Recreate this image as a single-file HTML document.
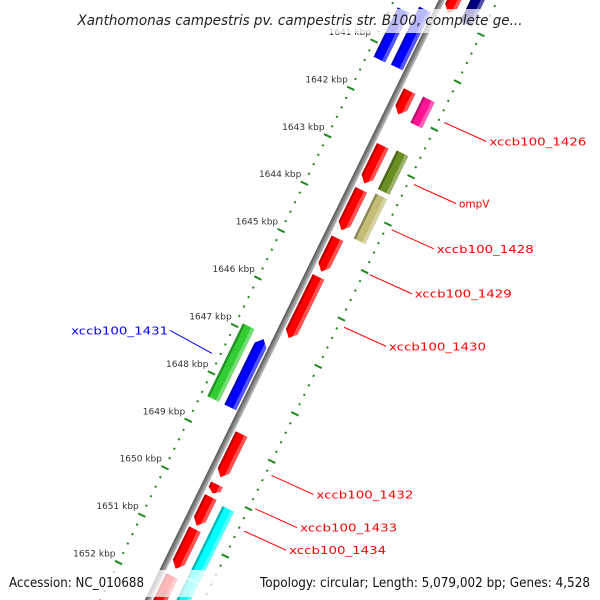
<!DOCTYPE html>
<html><head><meta charset="utf-8"><style>
html,body{margin:0;padding:0;background:#fff;width:600px;height:600px;overflow:hidden;}
svg{display:block;overflow:hidden;font-family:"DejaVu Sans","Liberation Sans",sans-serif;}
</style></head><body>
<svg id="map" width="600" height="600" viewBox="0 0 600 600" xmlns="http://www.w3.org/2000/svg">
<defs>
<linearGradient id="shade" x1="0" y1="0" x2="1" y2="0">
<stop offset="0" stop-color="#000" stop-opacity="0.28"/>
<stop offset="0.18" stop-color="#000" stop-opacity="0.28"/>
<stop offset="0.18" stop-color="#000" stop-opacity="0"/>
<stop offset="0.72" stop-color="#fff" stop-opacity="0"/>
<stop offset="0.72" stop-color="#fff" stop-opacity="0.32"/>
<stop offset="1" stop-color="#fff" stop-opacity="0.32"/>
</linearGradient>
<linearGradient id="bb" x1="0" y1="0" x2="1" y2="0">
<stop offset="0" stop-color="#555"/><stop offset="0.5" stop-color="#888"/><stop offset="1" stop-color="#c4c4c4"/>
</linearGradient>
<clipPath id="frame"><rect x="0" y="0" width="600" height="600"/></clipPath>
</defs>
<rect width="600" height="600" fill="#fff"/>
<g clip-path="url(#frame)">
<g id="rot" transform="translate(442,0) rotate(26.1)"></g>
</g>
<g id="labels"></g>
<rect x="0" y="9" width="600" height="24" fill="#fff" fill-opacity="0.72"/>
<text x="300" y="25" text-anchor="middle" font-size="14" font-style="italic" fill="#222" textLength="445" lengthAdjust="spacingAndGlyphs">Xanthomonas campestris pv. campestris str. B100, complete ge...</text>
<rect x="0" y="570" width="600" height="27" fill="#fff" fill-opacity="0.72"/>
<text x="9" y="587" font-size="13" fill="#111" textLength="135" lengthAdjust="spacingAndGlyphs">Accession: NC_010688</text>
<text x="590" y="587" text-anchor="end" font-size="13" fill="#111" textLength="330" lengthAdjust="spacingAndGlyphs">Topology: circular; Length: 5,079,002 bp; Genes: 4,528</text>
</svg>
<script>
var geneStarts = [1640230,1640040,1639168,1639170,1641555,1641536,1642710,1642672,1643638,1643581,1644661,1645475,1646896,1646991,1648790,1649850,1650116,1650797,1651782,1650172,1651706];
var geneEnds   = [1641271,1641261,1639907,1639945,1642047,1642085,1643506,1643487,1644491,1644528,1645362,1646763,1648430,1648430,1649699,1650040,1650722,1651630,1652994,1651688,1652994];
var geneTracks = ["L1","L2","R1","R2","R1","R2","R1","R2","R1","R2","R1","R1","L1","L2","R1","R1","R1","R1","R1","R2","R2"];
var geneColors = ["#0000ff","#0000ff","#ff0000","#000080","#ff0000","#ff1493","#ff0000","#6b8e23","#ff0000","#c4bd78","#ff0000","#ff0000","#32cd32","#0000ff","#ff0000","#ff0000","#ff0000","#ff0000","#ff0000","#00ffff","#00ffff"];
var geneArrows = [0,0,1,0,1,0,1,0,1,0,1,1,0,-1,1,1,1,1,1,0,0];
var geneLabels = ["","","","","xccb100_1426","","ompV","","xccb100_1428","","xccb100_1429","xccb100_1430","xccb100_1431","","xccb100_1432","xccb100_1433","xccb100_1434","","","",""];
var tickLabelKbp = [1641,1642,1643,1644,1645,1646,1647,1648,1649,1650,1651,1652];
var tickRange = [1638000,1654000];

var NS="http://www.w3.org/2000/svg";
var rot=document.getElementById('rot'), lab=document.getElementById('labels');
var trackX={L1:-30,L2:-11,R1:11,R2:32};
var HW=6.5, OUTER=-43, INNER=50;
var C=Math.cos(26.1*Math.PI/180), S=Math.sin(26.1*Math.PI/180);
function Y(bp){return 119.5+(bp-1642000)/1000*52.8;}
function scr(lx,ly){return [442+lx*C-ly*S, lx*S+ly*C];}
function mk(t,a,p){var e=document.createElementNS(NS,t);for(var k in a)e.setAttribute(k,a[k]);(p||rot).appendChild(e);return e;}

var bbone=mk('rect',{x:-3,y:-60,width:6,height:760,fill:'url(#bb)'});



for(var bp=tickRange[0];bp<=tickRange[1];bp+=200){
  var ly=Y(bp), major=(bp%1000===0);
  [OUTER,INNER].forEach(function(rx){
    var t;
    if(major){t=mk('line',{x1:rx-4,y1:ly,x2:rx+4,y2:ly,stroke:'#1e8a1e','stroke-width':2});
      }
    else{t=mk('rect',{x:rx-1,y:ly-1,width:2,height:2,fill:'#1e8a1e'});
      }
    
  });
}
tickLabelKbp.forEach(function(k){
  var p=scr(OUTER,Y(k*1000));
  var t=mk('text',{x:p[0]-3,y:p[1]-6,'text-anchor':'end','font-size':9,fill:'#333'},lab);
  t.textContent=k+' kbp';
  
  
});

for(var i=0;i<geneStarts.length;i++){
  var xc=trackX[geneTracks[i]], x0=xc-HW, x1=xc+HW, y0=Y(geneStarts[i]), y1=Y(geneEnds[i]);
  var a=Math.min(7,(y1-y0)*0.45), pts;
  if(geneArrows[i]===1) pts=[[x0,y0],[x1,y0],[x1,y1-a],[xc,y1],[x0,y1-a]];
  else if(geneArrows[i]===-1) pts=[[xc,y0],[x1,y0+a],[x1,y1],[x0,y1],[x0,y0+a]];
  else pts=[[x0,y0],[x1,y0],[x1,y1],[x0,y1]];
  var d=pts.map(function(p){return p.join(',');}).join(' ');
  var g=mk('polygon',{points:d,fill:geneColors[i]});
  
  
  var s=mk('polygon',{points:d,fill:'url(#shade)'});
  
  
  if(geneLabels[i]){
    var mid=(y0+y1)/2, left=xc<0;
    var p=scr(left?-51:56,mid), q=left?[p[0]-42,p[1]-23]:[p[0]+42,p[1]+19];
    var col=left?'#0000ff':'#ff0000';
    var ln=mk('line',{x1:p[0],y1:p[1],x2:q[0],y2:q[1],stroke:col,'stroke-width':1},lab);
    
    
    var tx=mk('text',{x:left?q[0]-2:q[0]+3,y:q[1]+4,'text-anchor':left?'end':'start','font-size':10.5,fill:col},lab);
    if(geneLabels[i].length>6){tx.setAttribute('textLength',97);tx.setAttribute('lengthAdjust','spacingAndGlyphs');}
    tx.textContent=geneLabels[i];
    
    
  }
}
</script>
</body></html>
